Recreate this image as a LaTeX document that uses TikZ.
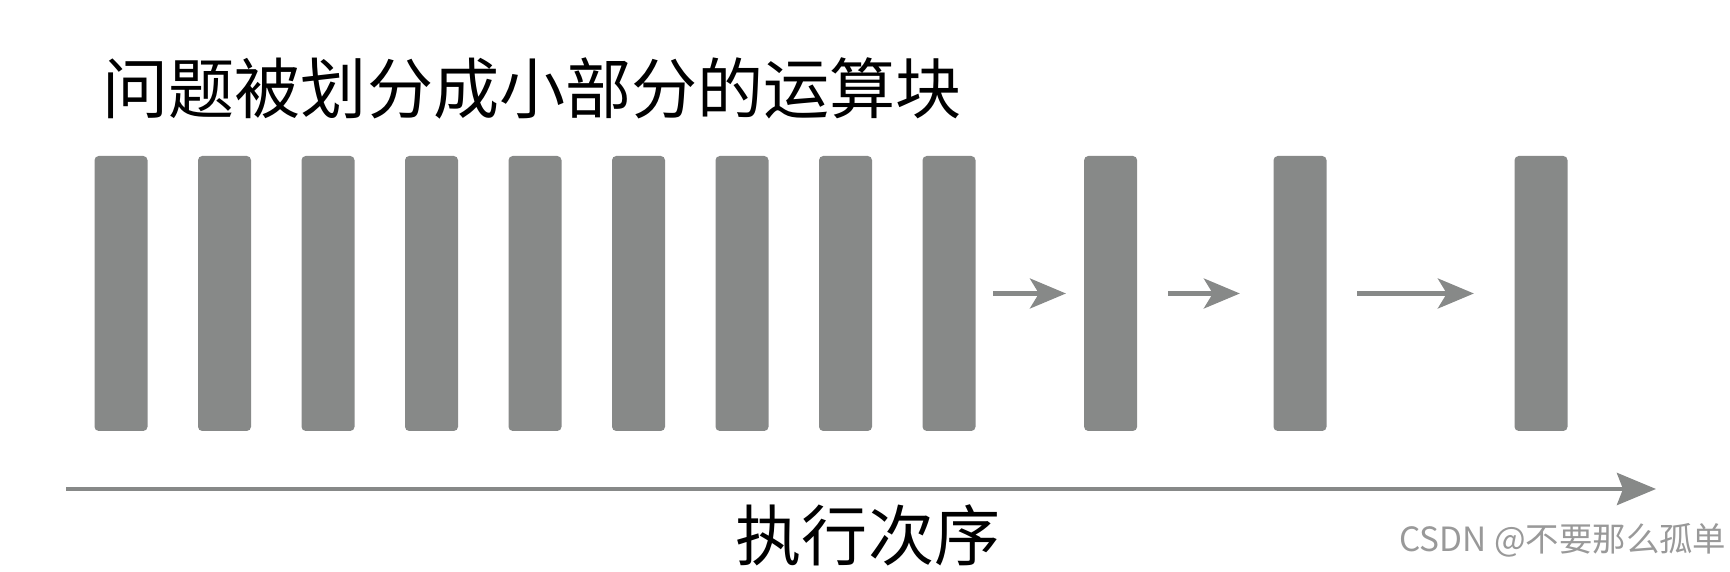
\documentclass[tikz,border=0pt]{standalone}
\usepackage{fontspec}
\setmainfont{Noto Sans CJK SC}
\usepackage{tikz}
\usetikzlibrary{arrows.meta, positioning, calc}
\definecolor{bloquegris}{RGB}{135,137,136}

\begin{document}
\begin{tikzpicture}[
		blk/.style={
			rectangle,
			rounded corners=1.2pt,
			fill=bloquegris,
			minimum width=5.3mm,
			minimum height=27.5mm,
			inner sep=0pt
		},
		fl/.style={
			draw=bloquegris,
			line width=1.15pt,
			-{Stealth[length=3.6mm, width=3.0mm, inset=0.9mm]}
		},
		eje/.style={
			draw=bloquegris,
			line width=1.3pt,
			-{Stealth[length=3.9mm, width=3.2mm, inset=0.6mm]}
		},
		rotulo/.style={
			font=\fontsize{18.8pt}{20pt}\selectfont,
			inner sep=0pt
		}
		]
		\useasboundingbox (0,0) rectangle (17.30,5.72);
		
		% Titulo
		\node[rotulo, anchor=west] (titulo) at (1.02,4.84)
		{问题被划分成小部分的运算块};
		
		% Bloques
		\foreach \i in {1,...,9}
		\node[blk] (b\i) at ({1.21+1.035*(\i-1)},2.785) {};
		
		\node[blk] (b10) at (11.106,2.785) {};
		\node[blk] (b11) at (13.00,2.785) {};
		\node[blk] (b12) at (15.41,2.785) {};
		
		\draw[fl, shorten <=1.7mm, shorten >=1.75mm] (b9) -- (b10);
		\draw[fl, shorten <=3mm, shorten >=3.3mm] (b10) -- (b11);
		\draw[fl, shorten <=3mm, shorten >=4mm] (b11) -- (b12);
		
		% Eje de ejecucion
		\coordinate (t0) at (0.66,0.83);
		\coordinate (t1) at (16.56,0.83);
		\draw[eje] (t0) -- (t1);
		
		\node[rotulo] (orden) at (8.68,0.37) {执行次序};
		
		\node[anchor=east, inner sep=0pt, text=black!40,
			font=\fontsize{9.5pt}{11pt}\selectfont] (marca) at (17.27,0.32)
		{CSDN @不要那么孤单};
		
	\end{tikzpicture}
\end{document}
